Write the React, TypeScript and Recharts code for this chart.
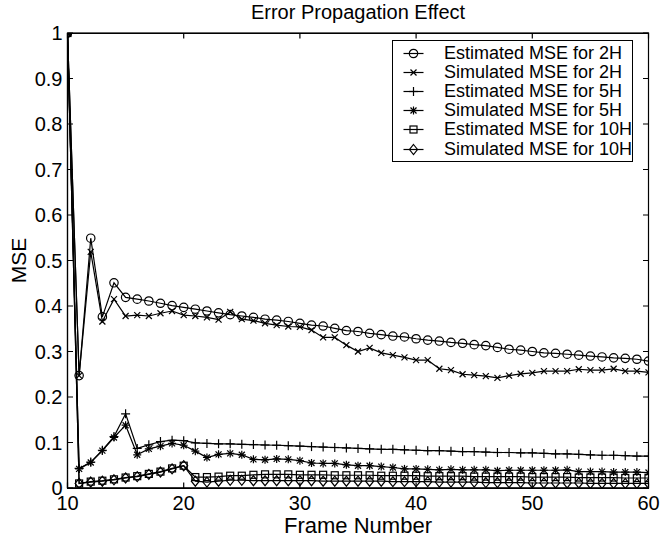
import React from 'react';
import { LineChart, Line, XAxis, YAxis, Legend } from 'recharts';

const FONT = '"Liberation Sans", Arial, Helvetica, sans-serif';

const frames = [
  10, 11, 12, 13, 14, 15, 16, 17, 18, 19,
  20, 21, 22, 23, 24, 25, 26, 27, 28, 29,
  30, 31, 32, 33, 34, 35, 36, 37, 38, 39,
  40, 41, 42, 43, 44, 45, 46, 47, 48, 49,
  50, 51, 52, 53, 54, 55, 56, 57, 58, 59,
  60,
];

const estimated2H = [
  1.0, 0.247, 0.549, 0.376, 0.451, 0.419, 0.415, 0.411, 0.406, 0.401,
  0.397, 0.393, 0.389, 0.385, 0.381, 0.378, 0.375, 0.371, 0.369, 0.366,
  0.362, 0.358, 0.356, 0.351, 0.346, 0.344, 0.340, 0.337, 0.334, 0.332,
  0.328, 0.325, 0.323, 0.320, 0.318, 0.315, 0.313, 0.309, 0.305, 0.303,
  0.300, 0.297, 0.296, 0.294, 0.292, 0.290, 0.288, 0.286, 0.285, 0.283,
  0.279,
];

const simulated2H = [
  1.0, 0.247, 0.519, 0.366, 0.415, 0.378, 0.380, 0.378, 0.384, 0.389,
  0.380, 0.378, 0.375, 0.370, 0.387, 0.371, 0.368, 0.362, 0.358, 0.355,
  0.354, 0.347, 0.331, 0.331, 0.314, 0.300, 0.308, 0.297, 0.292, 0.287,
  0.281, 0.281, 0.262, 0.259, 0.250, 0.248, 0.246, 0.242, 0.247, 0.251,
  0.253, 0.257, 0.257, 0.257, 0.261, 0.259, 0.259, 0.262, 0.257, 0.257,
  0.254,
];

const estimated5H = [
  1.0, 0.043, 0.057, 0.083, 0.113, 0.163, 0.087, 0.095, 0.102, 0.105,
  0.104, 0.099, 0.098, 0.097, 0.097, 0.096, 0.0955, 0.0945, 0.094, 0.093,
  0.092, 0.091, 0.090, 0.089, 0.088, 0.087, 0.086, 0.085, 0.085, 0.084,
  0.083, 0.082, 0.082, 0.081, 0.080, 0.080, 0.079, 0.078, 0.078, 0.077,
  0.077, 0.076, 0.075, 0.075, 0.074, 0.073, 0.072, 0.072, 0.071, 0.070,
  0.070,
];

const simulated5H = [
  1.0, 0.042, 0.056, 0.082, 0.111, 0.138, 0.073, 0.086, 0.092, 0.098,
  0.094, 0.081, 0.067, 0.074, 0.076, 0.073, 0.063, 0.062, 0.064, 0.063,
  0.060, 0.055, 0.054, 0.054, 0.051, 0.049, 0.049, 0.047, 0.045, 0.042,
  0.042, 0.041, 0.040, 0.041, 0.040, 0.040, 0.040, 0.038, 0.039, 0.039,
  0.039, 0.039, 0.039, 0.040, 0.036, 0.036, 0.036, 0.035, 0.035, 0.035,
  0.034,
];

const estimated10H = [
  1.0, 0.010, 0.014, 0.016, 0.019, 0.023, 0.026, 0.031, 0.036, 0.043,
  0.049, 0.024, 0.024, 0.025, 0.027, 0.027, 0.029, 0.030, 0.030, 0.030,
  0.029, 0.029, 0.029, 0.028, 0.028, 0.028, 0.028, 0.027, 0.027, 0.027,
  0.027, 0.026, 0.026, 0.026, 0.026, 0.025, 0.025, 0.025, 0.025, 0.025,
  0.024, 0.024, 0.024, 0.024, 0.023, 0.023, 0.023, 0.023, 0.022, 0.022,
  0.022,
];

const simulated10H = [
  1.0, 0.010, 0.013, 0.015, 0.018, 0.022, 0.025, 0.030, 0.035, 0.042,
  0.049, 0.015, 0.013, 0.015, 0.017, 0.017, 0.016, 0.016, 0.016, 0.016,
  0.016, 0.016, 0.015, 0.015, 0.015, 0.015, 0.015, 0.015, 0.014, 0.014,
  0.014, 0.014, 0.013, 0.013, 0.013, 0.013, 0.012, 0.012, 0.012, 0.012,
  0.011, 0.011, 0.011, 0.011, 0.011, 0.010, 0.010, 0.010, 0.010, 0.010,
  0.010,
];

const xTicks = [10, 20, 30, 40, 50, 60];
const yTicks = [0, 0.1, 0.2, 0.3, 0.4, 0.5, 0.6, 0.7, 0.8, 0.9, 1];
const yTickLabels = ['0', '0.1', '0.2', '0.3', '0.4', '0.5', '0.6', '0.7', '0.8', '0.9', '1'];

const titleText = 'Error Propagation Effect';
const xLabelText = 'Frame Number';
const yLabelText = 'MSE';

type Shape = 'circle' | 'x' | 'plus' | 'star' | 'square' | 'diamond';

const seriesDefs: { key: string; name: string; shape: Shape; values: number[] }[] = [
  { key: 'est2H', name: 'Estimated MSE for 2H', shape: 'circle', values: estimated2H },
  { key: 'sim2H', name: 'Simulated MSE for 2H', shape: 'x', values: simulated2H },
  { key: 'est5H', name: 'Estimated MSE for 5H', shape: 'plus', values: estimated5H },
  { key: 'sim5H', name: 'Simulated MSE for 5H', shape: 'star', values: simulated5H },
  { key: 'est10H', name: 'Estimated MSE for 10H', shape: 'square', values: estimated10H },
  { key: 'sim10H', name: 'Simulated MSE for 10H', shape: 'diamond', values: simulated10H },
];

const data = frames.map((f, i) => {
  const row: Record<string, number> = { frame: f };
  seriesDefs.forEach((s) => {
    row[s.key] = s.values[i];
  });
  return row;
});

// layout
const CHART_W = 660;
const CHART_H = 544;
const MARGIN = { top: 33, right: 11.5, bottom: 0, left: 0 };
const X_AXIS_H = 56;
const Y_AXIS_W = 67.5;
const PLOT_X = MARGIN.left + Y_AXIS_W;
const PLOT_Y = MARGIN.top;
const PLOT_W = CHART_W - MARGIN.left - MARGIN.right - Y_AXIS_W;
const PLOT_H = CHART_H - MARGIN.top - MARGIN.bottom - X_AXIS_H;

const SW = 1.2;
const TICK_LEN = 5.5;

function Marker({ shape, cx, cy }: { shape: Shape; cx: number; cy: number }) {
  if (cx == null || cy == null || isNaN(cx) || isNaN(cy)) return <g />;
  const p = { stroke: '#000', strokeWidth: SW, fill: 'none' };
  switch (shape) {
    case 'circle':
      return <circle cx={cx} cy={cy} r={4.2} {...p} />;
    case 'x':
      return (
        <g {...p}>
          <line x1={cx - 3} y1={cy - 3} x2={cx + 3} y2={cy + 3} />
          <line x1={cx - 3} y1={cy + 3} x2={cx + 3} y2={cy - 3} />
        </g>
      );
    case 'plus':
      return (
        <g {...p}>
          <line x1={cx - 4.5} y1={cy} x2={cx + 4.5} y2={cy} />
          <line x1={cx} y1={cy - 4.5} x2={cx} y2={cy + 4.5} />
        </g>
      );
    case 'star':
      return (
        <g {...p}>
          <line x1={cx - 4} y1={cy} x2={cx + 4} y2={cy} />
          <line x1={cx} y1={cy - 4} x2={cx} y2={cy + 4} />
          <line x1={cx - 3} y1={cy - 3} x2={cx + 3} y2={cy + 3} />
          <line x1={cx - 3} y1={cy + 3} x2={cx + 3} y2={cy - 3} />
        </g>
      );
    case 'square':
      return <rect x={cx - 3.5} y={cy - 3.5} width={7} height={7} {...p} />;
    case 'diamond':
      return (
        <polygon
          points={`${cx},${cy - 5} ${cx + 4},${cy} ${cx},${cy + 5} ${cx - 4},${cy}`}
          {...p}
        />
      );
    default:
      return <g />;
  }
}

const tickStyle = { fontSize: 20, fontFamily: FONT, fill: '#000' };

// Bottom ticks (with labels) plus the mirrored inward tick on the top edge of the box.
const BottomTick = (p: any) => {
  const x = Number(p.x);
  const y = Number(p.y);
  const topY = y - PLOT_H;
  return (
    <g>
      <path d={`M${x},${y}L${x},${y - TICK_LEN}M${x},${topY}L${x},${topY + TICK_LEN}`} stroke="#000" strokeWidth={SW} fill="none" />
      <text x={x} y={y + 22} textAnchor="middle" {...tickStyle}>
        {p.payload.value}
      </text>
    </g>
  );
};

// Left ticks (with labels) plus the mirrored inward tick on the right edge of the box.
const LeftTick = (p: any) => {
  const x = Number(p.x);
  const y = Number(p.y);
  const idx = yTicks.findIndex((t) => Math.abs(t - p.payload.value) < 1e-9);
  const rightX = x + PLOT_W;
  return (
    <g>
      <path d={`M${x},${y}L${x + TICK_LEN},${y}M${rightX},${y}L${rightX - TICK_LEN},${y}`} stroke="#000" strokeWidth={SW} fill="none" />
      <text x={x - 5} y={y + 7.2} textAnchor="end" {...tickStyle}>
        {idx >= 0 ? yTickLabels[idx] : String(p.payload.value)}
      </text>
    </g>
  );
};

const LegendBox = () => (
  <div
    style={{
      width: 239,
      height: 117,
      border: `${SW}px solid #000`,
      background: '#fff',
      boxSizing: 'content-box',
      paddingTop: 3,
      fontFamily: FONT,
      fontSize: 18,
      color: '#000',
    }}
  >
    {seriesDefs.map((s) => (
      <div key={s.key} style={{ height: 19.1, display: 'flex', alignItems: 'center', whiteSpace: 'nowrap' }}>
        <svg width={51} height={19} style={{ display: 'block', flex: 'none' }}>
          <line x1={10.5} y1={9.5} x2={30.5} y2={9.5} stroke="#000" strokeWidth={SW} />
          <Marker shape={s.shape} cx={20.5} cy={9.5} />
        </svg>
        <span style={{ lineHeight: '19px' }}>{s.name}</span>
      </div>
    ))}
  </div>
);

export default function App() {
  const axisLine = { stroke: '#000', strokeWidth: SW };
  return (
    <div style={{ position: 'absolute', left: 0, top: 0, width: CHART_W, height: CHART_H, background: '#fff' }}>
      <LineChart width={CHART_W} height={CHART_H} data={data} margin={MARGIN}>
        <XAxis
          dataKey="frame"
          type="number"
          domain={[10, 60]}
          ticks={xTicks}
          interval={0}
          height={X_AXIS_H}
          axisLine={axisLine}
          tickLine={false}
          tickSize={0}
          tickMargin={0}
          tick={<BottomTick />}
          allowDataOverflow
        />
        <YAxis
          type="number"
          domain={[0, 1]}
          ticks={yTicks}
          interval={0}
          width={Y_AXIS_W}
          axisLine={axisLine}
          tickLine={false}
          tickSize={0}
          tickMargin={0}
          tick={<LeftTick />}
          allowDataOverflow
        />
        <Legend
          layout="vertical"
          align="center"
          verticalAlign="middle"
          content={() => <LegendBox />}
          wrapperStyle={{ position: 'absolute', left: 392, top: 40, width: 241, height: 121 }}
        />
        {seriesDefs.map((s) => (
          <Line
            key={s.key}
            type="linear"
            dataKey={s.key}
            name={s.name}
            stroke="#000"
            strokeWidth={SW}
            isAnimationActive={false}
            activeDot={false}
            dot={(dp: any) => (
              <Marker key={`${s.key}-${dp.index}`} shape={s.shape} cx={dp.cx} cy={dp.cy} />
            )}
          />
        ))}
      </LineChart>
      <div
        style={{
          position: 'absolute',
          left: PLOT_X - 0.5,
          top: PLOT_Y - 0.5,
          width: PLOT_W - 1,
          height: PLOT_H - 1,
          border: '1px solid #000',
          boxSizing: 'content-box',
          pointerEvents: 'none',
        }}
      />
      <svg
        width={CHART_W}
        height={CHART_H}
        style={{ position: 'absolute', left: 0, top: 0, pointerEvents: 'none' }}
      >
        <rect x={PLOT_X} y={PLOT_Y} width={PLOT_W} height={PLOT_H} fill="none" stroke="#000" strokeWidth={SW} />
        <text x={358} y={19} textAnchor="middle" fontSize={20} fontFamily={FONT} fill="#000">
          {titleText}
        </text>
        <text x={358} y={533} textAnchor="middle" fontSize={22} fontFamily={FONT} fill="#000">
          {xLabelText}
        </text>
        <text
          x={0}
          y={0}
          transform="translate(26, 260.5) rotate(-90)"
          textAnchor="middle"
          fontSize={21}
          fontFamily={FONT}
          fill="#000"
        >
          {yLabelText}
        </text>
      </svg>
    </div>
  );
}
